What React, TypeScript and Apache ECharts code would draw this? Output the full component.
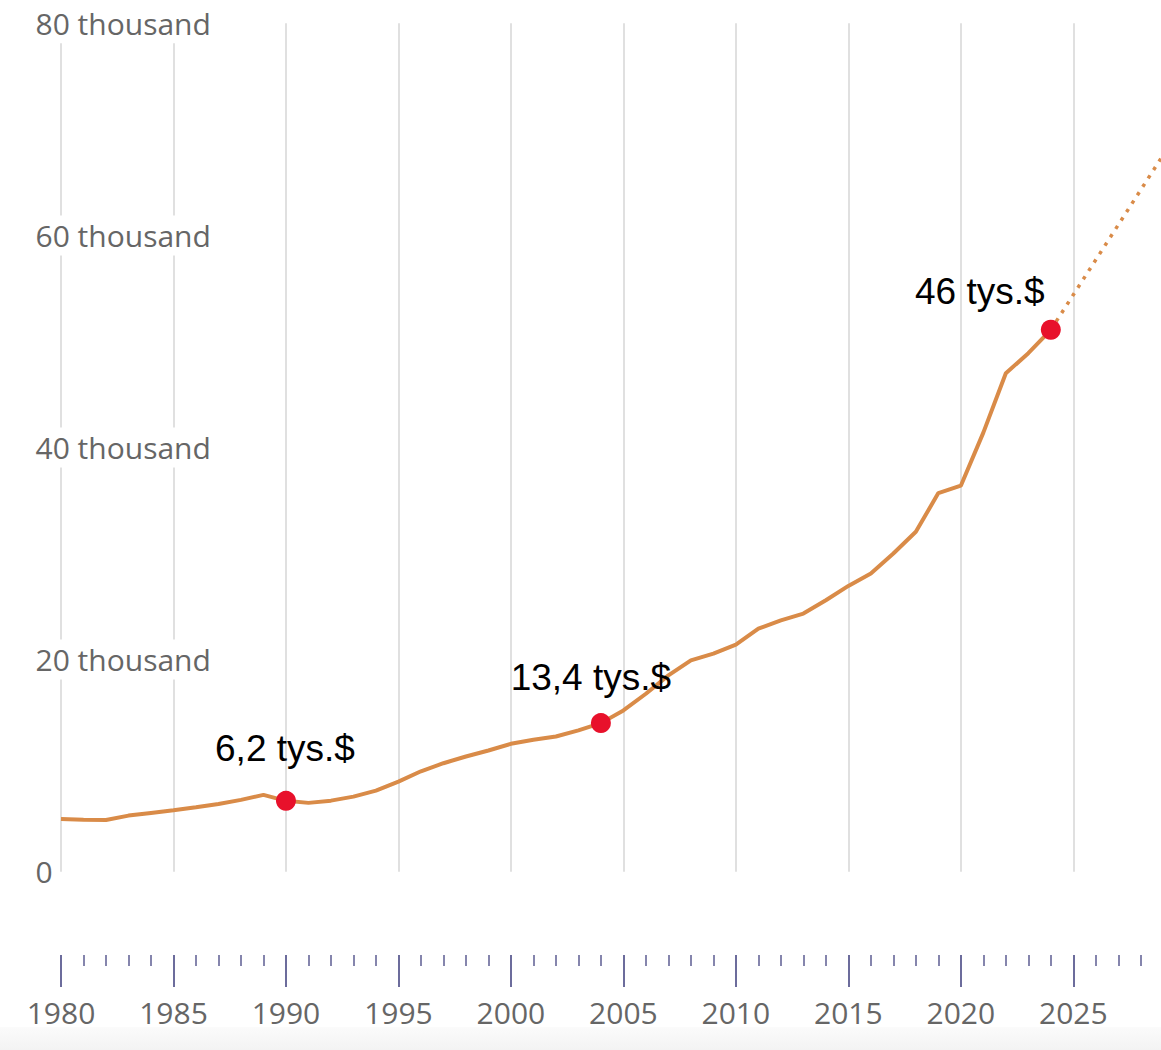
import React, { useEffect, useRef } from "react";
import * as echarts from "echarts";

// ---- Data ----
const years = [
  1980, 1981, 1982, 1983, 1984, 1985, 1986, 1987, 1988, 1989,
  1990, 1991, 1992, 1993, 1994, 1995, 1996, 1997, 1998, 1999,
  2000, 2001, 2002, 2003, 2004, 2005, 2006, 2007, 2008, 2009,
  2010, 2011, 2012, 2013, 2014, 2015, 2016, 2017, 2018, 2019,
  2020, 2021, 2022, 2023, 2024,
];
const gdpPerCapita = [
  4980, 4910, 4880, 5290, 5540, 5790, 6070, 6390, 6770, 7240,
  6680, 6490, 6700, 7080, 7650, 8500, 9470, 10230, 10860, 11430,
  12060, 12440, 12750, 13320, 14010, 15210, 16780, 18510, 19930, 20560,
  21420, 22920, 23700, 24340, 25600, 26950, 28120, 30010, 32050, 35700,
  36400, 41400, 47000, 48890, 51100,
];
const projectionYears = [2024, 2025, 2026, 2027, 2028, 2029];
const projectionValues = [51100, 54400, 57700, 61000, 64300, 67600];
const highlightYears = [1990, 2004, 2024];
const highlightLabels = ["6,2 tys.$", "13,4 tys.$", "46 tys.$"];
const yTickValues = [0, 20000, 40000, 60000, 80000];
const xTickLabels = ["1980", "1985", "1990", "1995", "2000", "2005", "2010", "2015", "2020", "2025"];

// ---- Styles ----
const highlightLabelOffsets = [
  [-1, -52],
  [-10, -46],
  [-71, -38],
];

export default function App() {
  const ref = useRef<HTMLDivElement>(null);

  useEffect(() => {
    if (!ref.current) return;
    const chart = echarts.init(ref.current, undefined, { renderer: "svg" });

    const lineData = years.map((y, i) => [y, gdpPerCapita[i]]);
    const projData = projectionYears.map((y, i) => [y, projectionValues[i]]);
    const highlightData = highlightYears.map((y, i) => ({
      value: [y, gdpPerCapita[years.indexOf(y)]],
      label: {
        formatter: highlightLabels[i],
        offset: highlightLabelOffsets[i],
      },
    }));

    const option: any = {
      animation: false,
      backgroundColor: "#ffffff",
      grid: [
        { left: 61, top: 23.3, width: 1124.8, height: 848.4 },
        { left: 61, top: 905, width: 1124.8, height: 50 },
      ],
      graphic: [
        {
          type: "rect",
          x: 0,
          y: 1027,
          z: -10,
          shape: { width: 1200, height: 23 },
          style: {
            fill: new echarts.graphic.LinearGradient(0, 0, 0, 1, [
              { offset: 0, color: "#fbfbfb" },
              { offset: 1, color: "#f3f3f3" },
            ]),
          },
        },
      ],
      xAxis: [
        {
          type: "value",
          gridIndex: 0,
          min: 1980,
          max: 2030,
          interval: 5,
          z: 0,
          axisLine: { show: false },
          axisTick: { show: false },
          axisLabel: { show: false },
          splitLine: { show: true, lineStyle: { color: "#e0e0e0", width: 2 } },
        },
        {
          type: "value",
          gridIndex: 1,
          position: "bottom",
          min: 1980,
          max: 2030,
          interval: 5,
          z: 0,
          axisLine: { show: false },
          axisTick: { show: true, length: 32, lineStyle: { color: "#6c6c9c", width: 2 } },
          minorTick: { show: true, splitNumber: 5, length: 11, lineStyle: { color: "#8585ad", width: 2 } },
          splitLine: { show: false },
          axisLabel: {
            margin: 42,
            color: "#666666",
            fontSize: 30,
            fontFamily: "Open Sans",
            formatter: (v: number) => (xTickLabels.includes(String(v)) ? String(v) : ""),
          },
        },
      ],
      yAxis: [
        {
          type: "value",
          gridIndex: 0,
          min: 0,
          max: 80000,
          interval: 20000,
          z: 1,
          axisLine: { show: false },
          axisTick: { show: false },
          splitLine: { show: false },
          axisLabel: {
            align: "left",
            margin: 29.5,
            color: "#666666",
            fontSize: 30,
            lineHeight: 30,
            fontFamily: "Open Sans",
            backgroundColor: "#ffffff",
            padding: [5, 4, 5, 4],
            formatter: (v: number) =>
              yTickValues.includes(v) ? (v === 0 ? "0" : `${v / 1000} thousand`) : "",
          },
        },
        {
          type: "value",
          gridIndex: 1,
          min: 0,
          max: 1,
          show: false,
        },
      ],
      series: [
        {
          type: "line",
          data: lineData,
          showSymbol: false,
          symbol: "none",
          z: 2,
          lineStyle: { color: "#d98b48", width: 4 },
        },
        {
          type: "line",
          data: projData,
          showSymbol: false,
          symbol: "none",
          z: 2,
          lineStyle: { color: "#d98b48", width: 3.5, type: [3.5, 6.5] },
        },
        {
          type: "scatter",
          data: highlightData,
          symbolSize: 20,
          z: 3,
          itemStyle: { color: "#e8112b", opacity: 1 },
          label: {
            show: true,
            position: "inside",
            color: "#000000",
            textBorderWidth: 0,
            fontSize: 37,
            fontFamily: "Liberation Sans",
          },
        },
      ],
    };

    chart.setOption(option);
    return () => chart.dispose();
  }, []);

  return (
    <div
      style={{
        position: "fixed",
        left: 0,
        top: 0,
        width: 1161,
        height: 1050,
        overflow: "hidden",
        background: "#fff",
      }}
    >
      <div ref={ref} style={{ width: 1200, height: 1050 }} />
    </div>
  );
}
